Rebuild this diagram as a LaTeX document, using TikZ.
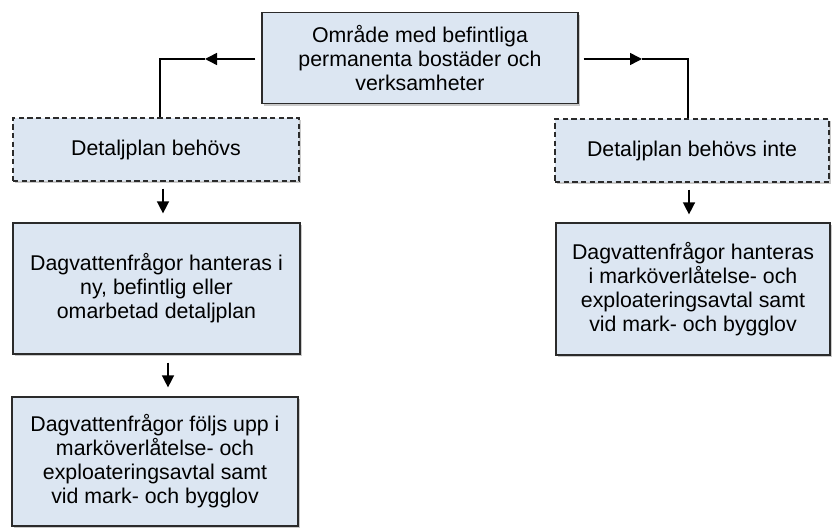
\documentclass[tikz,border=0pt]{standalone}
\usepackage{fontspec}
\setmainfont{Liberation Sans}
\usetikzlibrary{shadows,arrows.meta,calc}
\definecolor{boxfill}{HTML}{DCE6F2}
\definecolor{boxline}{HTML}{2B2B2B}
\tikzset{
  box/.style={rectangle, draw=boxline, line width=0.9pt, fill=boxfill, align=center,
    font=\fontsize{16}{18}\selectfont, inner sep=2pt,
    drop shadow={shadow xshift=1.5pt, shadow yshift=-1.8pt, opacity=0.35, fill=black!60}},
  dbox/.style={box, dashed, dash pattern=on 4pt off 2.5pt},
  conn/.style={line width=1.1pt, black},
  arr/.style={conn, -{Triangle[length=9pt,width=9pt]}},
}
\begin{document}
\begin{tikzpicture}[x=0.75pt,y=-0.75pt]
\useasboundingbox (0,0) rectangle (832,530);
\node[box, minimum width=316*0.75pt, minimum height=91*0.75pt] (top) at (420,58)
  {Område med befintliga\\permanenta bostäder och\\verksamheter};
\node[dbox, minimum width=286*0.75pt, minimum height=63*0.75pt] (l1) at (156,149.5) {Detaljplan behövs};
\node[dbox, minimum width=274*0.75pt, minimum height=63*0.75pt] (r1) at (692,150.5) {Detaljplan behövs inte};
\node[box, minimum width=287*0.75pt, minimum height=131*0.75pt] (l2) at (156.5,288.5)
  {Dagvattenfrågor hanteras i\\ny, befintlig eller\\omarbetad detaljplan};
\node[box, minimum width=274*0.75pt, minimum height=132*0.75pt] (r2) at (693,289)
  {Dagvattenfrågor hanteras\\i marköverlåtelse- och\\exploateringsavtal samt\\vid mark- och bygglov};
\node[box, minimum width=286*0.75pt, minimum height=129*0.75pt] (l3) at (155,461.5)
  {Dagvattenfrågor följs upp i\\marköverlåtelse- och\\exploateringsavtal samt\\vid mark- och bygglov};
% connectors
\coordinate (lc) at (160,59);
\coordinate (rc) at (688,59);
\coordinate (lm) at (205,59);
\coordinate (rm) at (642,59);
\draw[arr] ($(top.west)+(-6,1)$) -- (lm);
\draw[conn] (lm) -- (lc) -- (lc |- l1.north);
\draw[arr] ($(top.east)+(5,1)$) -- (rm);
\draw[conn] (rm) -- (rc) -- (rc |- r1.north);
\draw[arr] ($(l1.south)+(7,7)$) -- ($(l2.north)+(6.5,-9)$);
\draw[arr] ($(r1.south)+(-3,7)$) -- ($(r2.north)+(-4,-8)$);
\draw[arr] ($(l2.south)+(11.5,8)$) -- ($(l3.north)+(13,-9)$);
\end{tikzpicture}
\end{document}
